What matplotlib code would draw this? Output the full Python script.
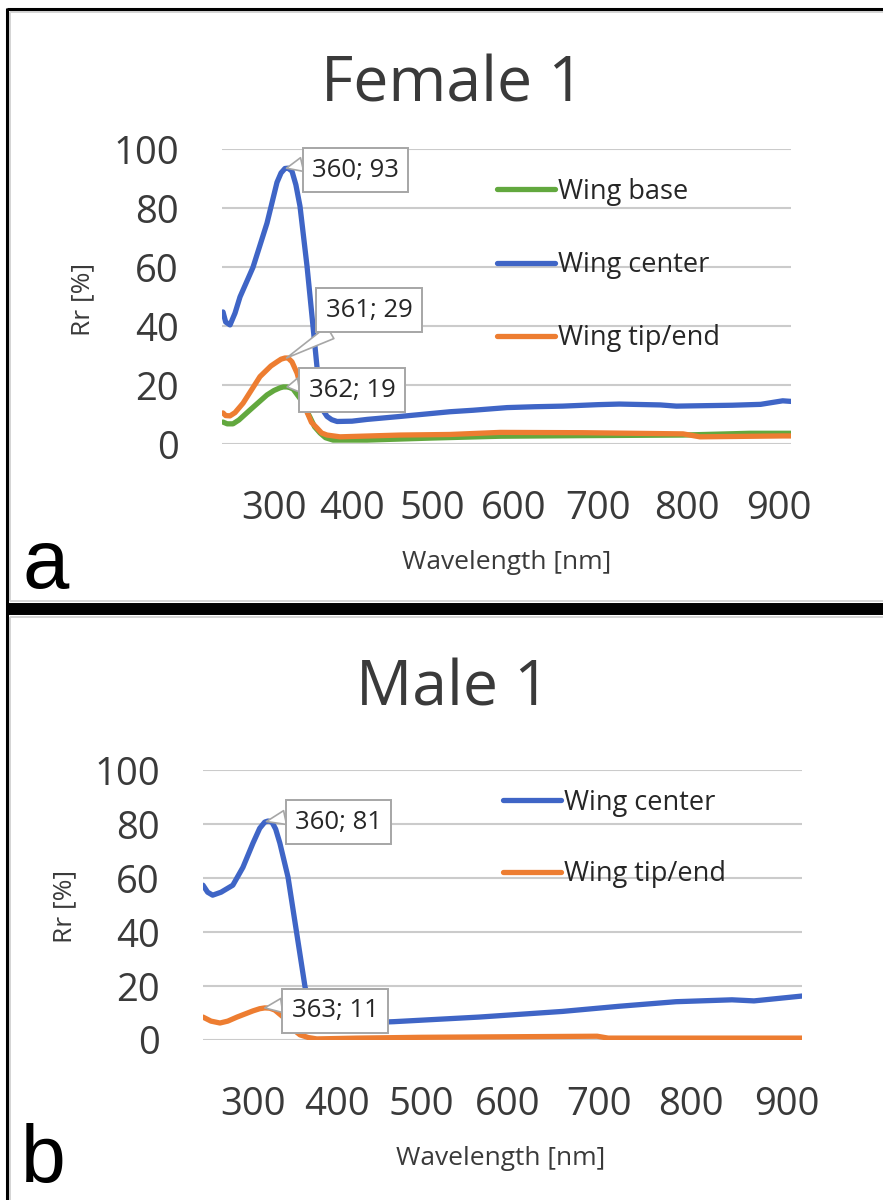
import numpy as np
import matplotlib
matplotlib.use("Agg")
import matplotlib.pyplot as plt
from matplotlib.lines import Line2D

# ---------------- data ----------------
tick_nm = [300, 400, 500, 600, 700, 800, 900]
tick_labels = ["300", "400", "500", "600", "700", "800", "900"]
y_ticks = [0, 20, 40, 60, 80, 100]

# Female 1
fa_center_x = [234.6, 238, 243.6, 250, 256.4, 273, 291, 303.8, 309, 314, 318, 323, 328, 333.3, 342.3,
               350, 355, 359, 363, 368, 374, 380.8, 400, 418.8, 460, 522, 550, 591.5, 625, 658, 700,
               724, 770, 788, 849, 880, 904, 913]
fa_center_y = [44.9, 41.5, 40.5, 44.5, 50, 60, 75, 88.8, 92.0, 93.5, 93.6, 92.6, 88.0, 80.7, 60.4,
               40, 26.5, 15.5, 11.5, 9.5, 8.4, 7.8, 7.9, 8.5, 9.5, 11.1, 11.6, 12.5, 12.8, 13.0, 13.5,
               13.7, 13.4, 13.0, 13.3, 13.6, 14.8, 14.6]
fa_tip_x = [234.6, 238, 243.6, 250, 260.3, 282, 296, 303.8, 309, 314, 318, 323, 329.5, 336, 342.3,
            348, 355, 361, 368, 384.6, 460, 522, 583, 682, 795.5, 814, 904.3, 913]
fa_tip_y = [10.7, 9.8, 9.7, 10.8, 14, 23, 26.6, 28, 28.9, 29.3, 29.3, 28, 24.2, 18, 11,
            7.5, 5.6, 3.9, 3.2, 2.6, 3.2, 3.4, 4.1, 4.0, 3.6, 2.6, 2.9, 2.9]
fa_base_x = [234.6, 240, 247.4, 255, 269.2, 291, 300, 307.7, 312, 316.7, 320, 324.4, 335, 346,
             352, 359, 366, 375.6, 418.8, 501.2, 583, 682, 795.5, 868.5, 913]
fa_base_y = [7.6, 7.0, 7, 8.3, 11.7, 16.8, 18.3, 19.2, 19.5, 19.5, 19.3, 18.8, 15, 9.3,
             6.0, 3.9, 2.3, 1.5, 1.5, 2.2, 2.8, 3.0, 3.2, 3.8, 3.8]

# Male 1
ma_center_x = [240.5, 246, 252, 262, 276, 288, 300, 308, 314, 318, 322.6, 327, 332, 341.7, 352,
               362, 372, 385, 420, 468, 566.7, 660, 721.7, 783.7, 842.7, 865.6, 915.6]
ma_center_y = [57.4, 54.8, 53.7, 54.8, 57.4, 64, 73, 78.5, 80.8, 81.2, 80.8, 78.2, 73, 60.4, 39.7,
               19.6, 9, 5.8, 6.2, 6.8, 8.5, 10.6, 12.5, 14.2, 14.9, 14.5, 16.3]
ma_tip_x = [240.5, 250, 260.7, 270, 281, 300, 308, 314, 320, 326, 338, 347.6, 356, 366, 376,
            424, 500, 600, 698, 710, 915.6]
ma_tip_y = [8.5, 7.0, 6.3, 7.0, 8.5, 10.8, 11.6, 11.9, 11.8, 11.1, 8, 4, 1.9, 0.9, 0.4,
            0.7, 1.0, 1.2, 1.4, 0.7, 0.7]

fa_labels = ["360; 93", "361; 29", "362; 19"]
fa_label_pts = [(316, 93.6), (316, 29.3), (316.7, 19.5)]
ma_labels = ["360; 81", "363; 11"]
ma_label_pts = [(316, 81.0), (314, 11.9)]

# ---------------- style ----------------
BLUE = "#3F65C6"
ORANGE = "#ED7D31"
GREEN = "#62A83E"
GRID = "#cbcbcb"
TXT = "#3a3a3a"
FONT = "Open Sans"

W, H = 883, 1200
fig = plt.figure(figsize=(W / 100, H / 100), dpi=100)
fig.patch.set_facecolor("white")


def fx(x):
    return x / W


def fy(y):
    return 1 - y / H


def make_scale(tpx):
    lo = (tpx[1] - tpx[0]) / (tick_nm[1] - tick_nm[0])
    hi = (tpx[-1] - tpx[-2]) / (tick_nm[-1] - tick_nm[-2])
    nm = [0] + tick_nm + [2000]
    px = [tpx[0] - tick_nm[0] * lo] + list(tpx) + [tpx[-1] + (2000 - tick_nm[-1]) * hi]
    return (lambda x: np.interp(x, nm, px), lambda p: np.interp(p, px, nm))


def setup(ax, tpx, xlim):
    f, inv = make_scale(tpx)
    ax.set_xscale("function", functions=(f, inv))
    ax.set_xlim(*xlim)
    ax.set_ylim(0, 100)
    for s in ax.spines.values():
        s.set_visible(False)
    ax.set_yticks(y_ticks)
    ax.set_xticks(tick_nm)
    ax.set_xticklabels(tick_labels)
    ax.tick_params(axis="both", length=0, labelsize=27.5, labelcolor=TXT)
    ax.tick_params(axis="y", pad=31)
    ax.tick_params(axis="x", pad=33)
    for t in ax.get_xticklabels() + ax.get_yticklabels():
        t.set_fontfamily(FONT)
    ax.yaxis.grid(True, color=GRID, lw=1.5)
    ax.set_axisbelow(True)
    ax.set_facecolor("none")


def draw_line(ax, x, y, c, lab):
    ax.plot(x, y, color=c, lw=3.8, solid_capstyle="round", solid_joinstyle="round", label=lab, zorder=3)


def callout(ax, text, pt, center, relpos):
    ax.annotate(text, xy=pt, xycoords="data",
                xytext=(fx(center[0]), fy(center[1])), textcoords="figure fraction",
                ha="center", va="center", fontsize=18.5, family=FONT, color="#262626",
                bbox=dict(boxstyle="square,pad=0.36", fc="white", ec="#a6a6a6", lw=1.4),
                arrowprops=dict(arrowstyle="wedge,tail_width=0.55,shrink_factor=0.5",
                                fc="white", ec="#a6a6a6", lw=1.2, relpos=relpos,
                                shrinkA=0, shrinkB=0),
                zorder=5)


# ---------------- panel a ----------------
axa = fig.add_axes([fx(222), fy(444.5), fx(791) - fx(222), fy(149.3) - fy(444.5)])
setup(axa, [274, 352, 432, 514, 598, 687, 779], (233.3, 913))
draw_line(axa, fa_base_x, fa_base_y, GREEN, "Wing base")
draw_line(axa, fa_tip_x, fa_tip_y, ORANGE, "Wing tip/end")
draw_line(axa, fa_center_x, fa_center_y, BLUE, "Wing center")
h, l = axa.get_legend_handles_labels()
order = [l.index("Wing base"), l.index("Wing center"), l.index("Wing tip/end")]
lega = axa.legend([h[i] for i in order], [l[i] for i in order],
                  loc="center left", bbox_to_anchor=(fx(497), fy(265)),
                  bbox_transform=fig.transFigure, frameon=False, borderpad=0, borderaxespad=0,
                  handlelength=2.15, handletextpad=0.1, labelspacing=1.68,
                  prop=dict(family=FONT, size=19.5))
for t in lega.get_texts():
    t.set_color("#262626")
callout(axa, fa_labels[0], fa_label_pts[0], (355.5, 170), (0.05, 0.85))
callout(axa, fa_labels[1], fa_label_pts[1], (369, 310), (0.3, 0.1))
callout(axa, fa_labels[2], fa_label_pts[2], (352, 390), (0.08, 0.8))

axa.set_xlabel("Wavelength [nm]", family=FONT, fontsize=19, color=TXT)
axa.xaxis.set_label_coords(0.501, -0.40)
axa.xaxis.label.set_va("center")
axa.set_ylabel("Rr [%]", family=FONT, fontsize=19, color=TXT)
axa.yaxis.set_label_coords(-0.244, 0.493)
axa.yaxis.label.set_va("center")

fig.text(fx(453), fy(101), "Female 1", ha="center", va="baseline", family=FONT, fontsize=45, color=TXT)
fig.text(fx(22), fy(588), "a", ha="left", va="baseline", family="Liberation Sans", fontsize=60, color="black")

# ---------------- panel b ----------------
axb = fig.add_axes([fx(203), fy(1040), fx(802) - fx(203), fy(770.3) - fy(1040)])
setup(axb, [253, 337, 421, 508, 599, 691, 787], (240.5, 915.6))
draw_line(axb, ma_tip_x, ma_tip_y, ORANGE, "Wing tip/end")
draw_line(axb, ma_center_x, ma_center_y, BLUE, "Wing center")
h, l = axb.get_legend_handles_labels()
order = [l.index("Wing center"), l.index("Wing tip/end")]
legb = axb.legend([h[i] for i in order], [l[i] for i in order],
                  loc="center left", bbox_to_anchor=(fx(503), fy(838.5)),
                  bbox_transform=fig.transFigure, frameon=False, borderpad=0, borderaxespad=0,
                  handlelength=2.15, handletextpad=0.1, labelspacing=1.6,
                  prop=dict(family=FONT, size=19.5))
for t in legb.get_texts():
    t.set_color("#262626")
callout(axb, ma_labels[0], ma_label_pts[0], (338.5, 822), (0.05, 0.8))
callout(axb, ma_labels[1], ma_label_pts[1], (335, 1011), (0.05, 0.8))

axb.set_xlabel("Wavelength [nm]", family=FONT, fontsize=19, color=TXT)
axb.xaxis.set_label_coords(0.4975, -0.44)
axb.xaxis.label.set_va("center")
axb.set_ylabel("Rr [%]", family=FONT, fontsize=19, color=TXT)
axb.yaxis.set_label_coords(-0.230, 0.497)
axb.yaxis.label.set_va("center")

fig.text(fx(453), fy(706), "Male 1", ha="center", va="baseline", family=FONT, fontsize=45, color=TXT)
fig.text(fx(21), fy(1182), "b", ha="left", va="baseline", family="Liberation Sans", fontsize=58, color="black")

# ---------------- frames ----------------
def fline(x0, y0, x1, y1, c, lw):
    fig.add_artist(Line2D([fx(x0), fx(x1)], [fy(y0), fy(y1)], color=c, lw=lw,
                          transform=fig.transFigure, solid_capstyle="butt"))

fline(10, 12, 10, 601, "#d4d4d4", 1.4)
fline(10, 12, 883, 12, "#d4d4d4", 1.4)
fline(10, 601, 883, 601, "#d4d4d4", 1.4)
fline(10, 617, 883, 617, "#d4d4d4", 1.4)
fline(10, 617, 10, 1200, "#d4d4d4", 1.4)
fline(7, 9, 883, 9, "black", 2.2)
fline(7, 8, 7, 1200, "black", 2.2)
fline(6, 609, 883, 609, "black", 8.6)

fig.savefig("out.png", dpi=100, facecolor="white")
